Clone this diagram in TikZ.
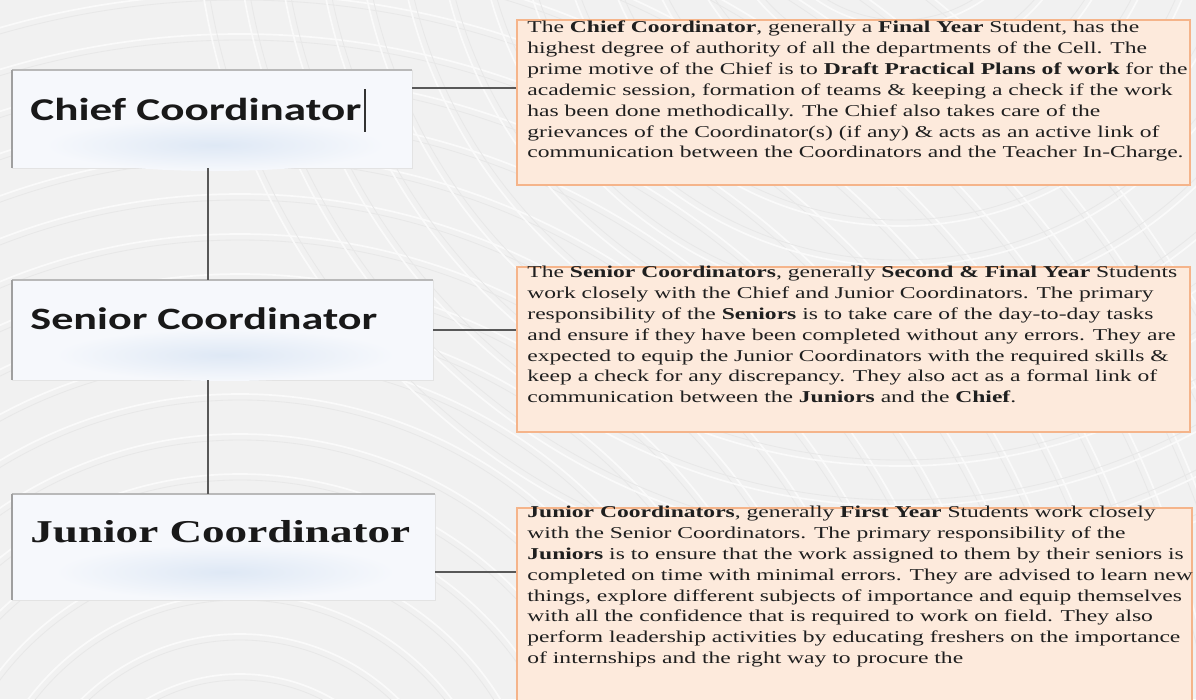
\documentclass[tikz,border=0pt]{standalone}
\usepackage{fontspec}
\setmainfont{Liberation Serif}
\newfontfamily\calibri{Carlito}
\usetikzlibrary{positioning}

\definecolor{bgpaper}{RGB}{241,241,241}
\definecolor{swirlhi}{RGB}{250,250,250}
\definecolor{swirllo}{RGB}{232,232,232}
\definecolor{rolefill}{RGB}{246,248,252}
\definecolor{roleglow}{RGB}{222,232,245}
\definecolor{descfill}{RGB}{253,234,220}
\definecolor{descedge}{RGB}{245,180,138}
\definecolor{linkgray}{RGB}{88,88,88}

\begin{document}
\begin{tikzpicture}[x=0.025cm, y=-0.025cm,
  rolebox/.style={draw=gray!22, line width=0.5pt, fill=rolefill, inner sep=0pt},
  roletext/.style={anchor=base west, inner sep=0pt, xscale=1.42, transform shape, text=black!90},
  descbox/.style={draw=descedge, line width=1.2pt, fill=descfill, inner sep=0pt},
  desctext/.style={anchor=north west, inner sep=0pt, align=left, xscale=1.42, transform shape,
    font=\fontsize{11.8}{14.8}\selectfont, text=black!88},
  link/.style={draw=linkgray, line width=1.1pt}]

\useasboundingbox (0,0) rectangle (1196,699);
\fill[bgpaper] (0,0) rectangle (1196,699);

\begin{scope}
\clip (0,0) rectangle (1196,699);
\foreach \r in {100,140,...,1100} {
    \draw[swirllo, line width=0.6pt] (240,860) circle[radius={0.025cm*\r}];
    \draw[swirlhi, line width=1.2pt] (240,860) circle[radius={0.025cm*(\r+6)}];
}
\foreach \r in {60,100,...,700} {
    \draw[swirllo, line width=0.6pt] (900,-120) circle[radius={0.025cm*\r}];
    \draw[swirlhi, line width=1.2pt] (900,-120) circle[radius={0.025cm*(\r+6)}];
}
\end{scope}

\node[rolebox, minimum width=10cm, minimum height=2.45cm] (chief) at (212,119) {};
\node[rolebox, minimum width=10.525cm, minimum height=2.5cm] (senior) at (222.5,330) {};
\node[rolebox, minimum width=10.575cm, minimum height=2.65cm] (junior) at (223.5,547) {};

\shade[inner color=roleglow, outer color=rolefill] (215,145) ellipse (170 and 26);
\shade[inner color=roleglow, outer color=rolefill] (225,355) ellipse (170 and 26);
\shade[inner color=roleglow, outer color=rolefill] (225,572) ellipse (170 and 28);

\foreach \b in {chief, senior, junior} {
    \draw[gray!55, line width=1.3pt] (\b.north west) -- (\b.north east);
    \draw[gray!75, line width=1.3pt] (\b.north west) -- (\b.south west);
}

\node[roletext, font=\calibri\bfseries\fontsize{22.6}{26}\selectfont] (chiefT) at (30,120) {Chief Coordinator};
\node[roletext, font=\calibri\bfseries\fontsize{22.1}{26}\selectfont] (seniorT) at (30,329) {Senior Coordinator};
\node[roletext, font=\bfseries\fontsize{22.6}{26}\selectfont] (juniorT) at (30,542) {Junior Coordinator};
\draw[black!80, line width=0.9pt] (365,89) -- (365,132);

\node[descbox, minimum width=16.825cm, minimum height=4.125cm] (descC) at (853.5,102.5) {};
\node[descbox, minimum width=16.825cm, minimum height=4.125cm] (descS) at (853.5,349.5) {};
\node[descbox, minimum width=16.875cm, minimum height=4.85cm] (descJ) at (854.5,605) {};

\node[desctext] (descCT) at (527,21) {The \textbf{Chief Coordinator}, generally a \textbf{Final Year} Student, has the\\
highest degree of authority of all the departments of the Cell. The\\
prime motive of the Chief is to \textbf{Draft Practical Plans of work} for the\\
academic session, formation of teams \& keeping a check if the work\\
has been done methodically. The Chief also takes care of the\\
grievances of the Coordinator(s) (if any) \& acts as an active link of\\
communication between the Coordinators and the Teacher In-Charge.};

\node[desctext] (descST) at (527,266) {The \textbf{Senior Coordinators}, generally \textbf{Second \& Final Year} Students\\
work closely with the Chief and Junior Coordinators. The primary\\
responsibility of the \textbf{Seniors} is to take care of the day-to-day tasks\\
and ensure if they have been completed without any errors. They are\\
expected to equip the Junior Coordinators with the required skills \&\\
keep a check for any discrepancy. They also act as a formal link of\\
communication between the \textbf{Juniors} and the \textbf{Chief}.};

\node[desctext] (descJT) at (527,506) {\textbf{Junior Coordinators}, generally \textbf{First Year} Students work closely\\
with the Senior Coordinators. The primary responsibility of the\\
\textbf{Juniors} is to ensure that the work assigned to them by their seniors is\\
completed on time with minimal errors. They are advised to learn new\\
things, explore different subjects of importance and equip themselves\\
with all the confidence that is required to work on field. They also\\
perform leadership activities by educating freshers on the importance\\
of internships and the right way to procure the};

\coordinate (spine) at (208,0);
\path (chief.east) ++(0,-31) coordinate (cC);
\path (junior.east) ++(0,25) coordinate (cJ);

\draw[link] (chief.south -| spine) -- (senior.north -| spine);
\draw[link] (senior.south -| spine) -- (junior.north -| spine);
\draw[link] (cC) -- (cC -| descC.west);
\draw[link] (senior.east) -- (senior.east -| descS.west);
\draw[link] (cJ) -- (cJ -| descJ.west);
\end{tikzpicture}
\end{document}
